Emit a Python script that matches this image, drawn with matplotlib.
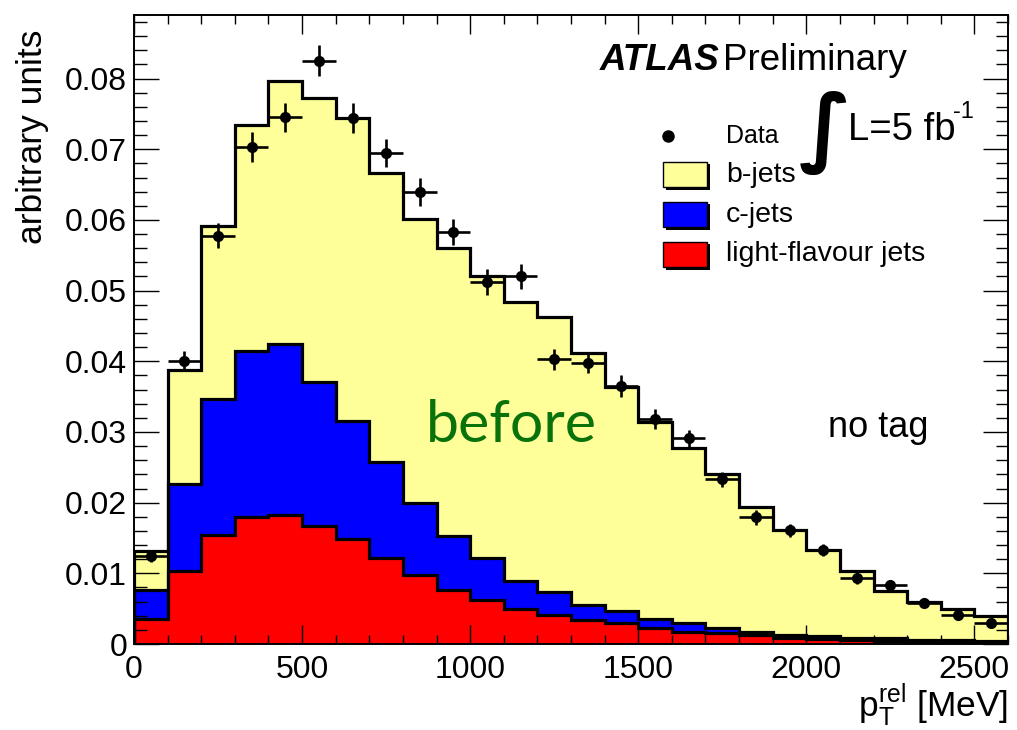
import numpy as np
import matplotlib
matplotlib.use("Agg")
import matplotlib.pyplot as plt
from matplotlib.patches import Rectangle
from matplotlib.ticker import MultipleLocator, FixedFormatter, FixedLocator

plt.rcParams["font.family"] = ["Liberation Sans", "DejaVu Sans"]
plt.rcParams["mathtext.fontset"] = "custom"
plt.rcParams["mathtext.rm"] = "Liberation Sans"
plt.rcParams["mathtext.it"] = "Liberation Sans:italic"

# p_T^rel binning [MeV]
bin_edges = np.arange(0, 2700, 100)

# template components (arbitrary units), stacked light -> c -> b
light_jets = [0.0036, 0.0103, 0.0154, 0.0180, 0.0183, 0.0167, 0.0148, 0.0122,
              0.0098, 0.0077, 0.0062, 0.0050, 0.0041, 0.0034, 0.0030, 0.0022,
              0.0017, 0.0015, 0.0013, 0.0008, 0.0007, 0.0005, 0.0004, 0.0003,
              0.0002, 0.0002]
c_jets = [0.0040, 0.0124, 0.0192, 0.0234, 0.0241, 0.0204, 0.0167, 0.0135,
          0.0102, 0.0076, 0.0059, 0.0039, 0.0032, 0.0021, 0.0016, 0.0014,
          0.0013, 0.0008, 0.0004, 0.0005, 0.0004, 0.0004, 0.0004, 0.0003,
          0.0003, 0.0002]
b_jets = [0.0055, 0.0160, 0.0245, 0.0321, 0.0373, 0.0402, 0.0429, 0.0410,
          0.0401, 0.0407, 0.0399, 0.0395, 0.0390, 0.0357, 0.0317, 0.0278,
          0.0247, 0.0217, 0.0177, 0.0148, 0.0122, 0.0094, 0.0067, 0.0054,
          0.0044, 0.0035]

# data with statistical uncertainties
data_values = [0.0124, 0.0400, 0.0578, 0.0703, 0.0745, 0.0825, 0.0744, 0.0695,
               0.0640, 0.0583, 0.0512, 0.0520, 0.0403, 0.0398, 0.0365, 0.0318,
               0.0291, 0.0233, 0.0179, 0.0161, 0.0133, 0.0093, 0.0084, 0.0058,
               0.0041, 0.0030]
data_errors = [0.0008, 0.0014, 0.0018, 0.0021, 0.0021, 0.0022, 0.0021, 0.0020,
               0.0020, 0.0018, 0.0018, 0.0018, 0.0015, 0.0015, 0.0015, 0.0014,
               0.0012, 0.0011, 0.0011, 0.0009, 0.0008, 0.0008, 0.0007, 0.0006,
               0.0006, 0.0005]

y_tick_values = [0, 0.01, 0.02, 0.03, 0.04, 0.05, 0.06, 0.07, 0.08]
y_tick_labels = ["0", "0.01", "0.02", "0.03", "0.04", "0.05", "0.06", "0.07", "0.08"]
x_tick_values = [0, 500, 1000, 1500, 2000, 2500]
x_tick_labels = ["0", "500", "1000", "1500", "2000", "2500"]

YELLOW = "#ffff99"
BLUE = "#0000ff"
RED = "#ff0000"

W, H = 1017, 730
fig = plt.figure(figsize=(W / 100, H / 100), dpi=100)
ax = fig.add_axes([134 / W, 1 - 644 / H, (1008 - 134) / W, (644 - 15) / H])


def px(x, y):
    return x / W, 1 - y / H


light = np.array(light_jets)
light_c = light + np.array(c_jets)
total = light_c + np.array(b_jets)

for vals, col in [(total, YELLOW), (light_c, BLUE), (light, RED)]:
    ax.stairs(vals, bin_edges, baseline=0, fill=True, color=col, lw=0, zorder=1)
    ax.stairs(vals, bin_edges, baseline=0, fill=False, color="black", lw=2.3, zorder=1.1)

centers = 0.5 * (bin_edges[:-1] + bin_edges[1:])
ax.errorbar(centers, data_values, xerr=50, yerr=data_errors, fmt="o", color="black",
            ms=7, elinewidth=1.9, capsize=0, zorder=3)

ax.set_xlim(0, 2600)
ax.set_ylim(0, 0.089)

ax.yaxis.set_major_locator(FixedLocator(y_tick_values))
ax.yaxis.set_major_formatter(FixedFormatter(y_tick_labels))
ax.yaxis.set_minor_locator(MultipleLocator(0.002))
ax.xaxis.set_major_locator(FixedLocator(x_tick_values))
ax.xaxis.set_major_formatter(FixedFormatter(x_tick_labels))
ax.xaxis.set_minor_locator(MultipleLocator(100))

ax.tick_params(axis="both", which="both", direction="in", top=True, right=True,
               labelsize=23, width=1.0, color="black")
ax.tick_params(axis="y", which="major", length=18, pad=5)
ax.tick_params(axis="y", which="minor", length=9)
ax.tick_params(axis="x", which="major", length=14, pad=8)
ax.tick_params(axis="x", which="minor", length=6.5)
for s in ax.spines.values():
    s.set_linewidth(1.4)

# axis titles
fig.text(*px(33, 30), "arbitrary units", rotation=90, ha="center", va="top", fontsize=25.5)
fig.text(*px(1008, 717), r"p$_{\mathrm{T}}^{\mathrm{rel}}$ [MeV]", ha="right",
         va="baseline", fontsize=25.5)

# experiment label
fig.text(*px(600, 70), "ATLAS", fontsize=26.5, weight="bold", style="italic", va="baseline")
fig.text(*px(723, 70), "Preliminary", fontsize=26.5, va="baseline")

# luminosity
fig.text(*px(825, 133), "\u222b", family="DejaVu Sans", fontsize=62, weight="bold",
         ha="center", va="center")
fig.text(*px(848, 140), "L=5 fb", fontsize=27.5, va="baseline")
fig.text(*px(953, 118), "-1", fontsize=17, va="baseline")

# legend
fig.add_artist(plt.Line2D([667.7 / W], [1 - 136 / H], marker="o", ms=8, color="black",
                          transform=fig.transFigure))
fig.text(*px(726, 143), "Data", fontsize=18, va="baseline")
for (ytop, col, lab, base) in [(162, YELLOW, "b-jets", 182),
                               (202, BLUE, "c-jets", 222),
                               (242, RED, "light-flavour jets", 261)]:
    x0, y0 = px(663, ytop + 25)
    fig.add_artist(Rectangle((x0 + 2.5 / W, y0 - 2.5 / H), 44 / W, 25 / H,
                             transform=fig.transFigure, facecolor="black",
                             edgecolor="black", lw=0))
    fig.add_artist(Rectangle((x0, y0), 44 / W, 25 / H, transform=fig.transFigure,
                             facecolor=col, edgecolor="black", lw=1.0))
    fig.text(*px(726, base), lab, fontsize=20.5, va="baseline")

# annotations
fig.text(*px(426, 442), "before", family="Lato", fontsize=42.5, color="#0a720a",
         va="baseline")
fig.text(*px(828, 437), "no tag", fontsize=26, va="baseline")

fig.savefig("out.png", dpi=100)
